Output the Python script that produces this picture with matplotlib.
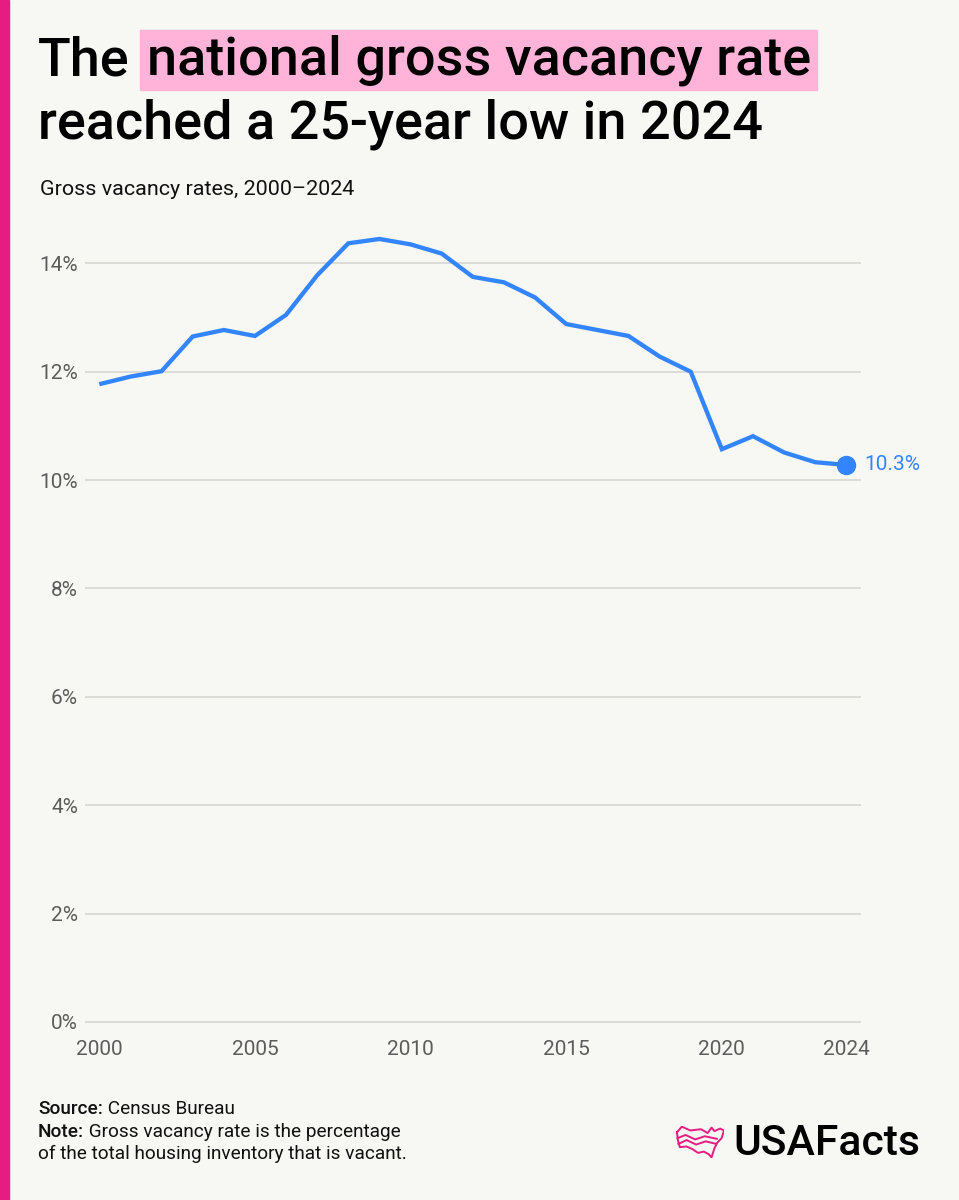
import matplotlib
matplotlib.use("Agg")
import matplotlib.pyplot as plt
from matplotlib.patches import Rectangle

# ---------------- data ----------------
years = list(range(2000, 2025))
rates = [11.77, 11.91, 12.01, 12.65, 12.77, 12.66, 13.05, 13.78, 14.37, 14.45,
         14.35, 14.18, 13.75, 13.65, 13.37, 12.88, 12.77, 12.66, 12.28, 12.00,
         10.57, 10.81, 10.51, 10.33, 10.28]
y_ticks = [0, 2, 4, 6, 8, 10, 12, 14]
y_tick_labels = ["0%", "2%", "4%", "6%", "8%", "10%", "12%", "14%"]
x_ticks = [2000, 2005, 2010, 2015, 2020, 2024]
x_tick_labels = ["2000", "2005", "2010", "2015", "2020", "2024"]
end_label = "10.3%"

title_plain = "The"
title_highlight = "national gross vacancy rate"
title_line2 = "reached a 25-year low in 2024"
subtitle = "Gross vacancy rates, 2000\u20132024"
source_bold = "Source:"
source_text = " Census Bureau"
note_bold = "Note:"
note_text = " Gross vacancy rate is the percentage"
note_line2 = "of the total housing inventory that is vacant."
logo_text = "USAFacts"

# ---------------- style ----------------
BG = "#F7F7F3"
BLUE = "#3385FF"
PINK = "#E61C80"
HILITE = "#FFB3D9"
GRID = "#DCDCD6"
TICK = "#5C5C5C"
FONT = ["Roboto", "DejaVu Sans"]
plt.rcParams["font.family"] = FONT

W, H = 959, 1200
fig = plt.figure(figsize=(W / 100, H / 100), dpi=100, facecolor=BG)
renderer = fig.canvas.get_renderer()

def fx(px):
    return px / W

def fy(py):
    return 1 - py / H

# left pink bar
fig.patches.append(Rectangle((0, 0), fx(9), 1, transform=fig.transFigure,
                             color=PINK, zorder=0))

# ---------------- axes ----------------
ylo, yhi = -0.15, 14.8
ax_left, ax_right = 85, 861
ax_bot, ax_top = 1030.1, 220
ax = fig.add_axes([fx(ax_left), fy(ax_bot), (ax_right - ax_left) / W,
                   (ax_bot - ax_top) / H])
ax.set_facecolor(BG)
ax.plot(years, rates, color=BLUE, lw=3.1, solid_joinstyle="miter",
        solid_capstyle="butt", zorder=3, clip_on=False)
ax.plot([years[-1]], [rates[-1]], "o", color=BLUE, ms=13, zorder=4, clip_on=False)
ax.annotate(end_label, (years[-1], rates[-1]), xytext=(13, 0),
            textcoords="offset points", va="center", ha="left",
            color=BLUE, fontsize=15, annotation_clip=False)

ax.set_xlim(1999.54, 2024.47)
ax.set_ylim(ylo, yhi)
ax.set_yticks(y_ticks)
ax.set_yticklabels(y_tick_labels)
ax.set_xticks(x_ticks)
ax.set_xticklabels(x_tick_labels)
ax.tick_params(axis="both", length=0, labelsize=15, labelcolor=TICK)
ax.tick_params(axis="y", pad=5)
ax.tick_params(axis="x", pad=7)
for s in ax.spines.values():
    s.set_visible(False)
ax.grid(axis="y", color=GRID, lw=1.4, zorder=1)
ax.grid(axis="x", visible=False)
ax.set_axisbelow(True)

# ---------------- text helpers ----------------
def fit_text(x_px, y_px, s, target_w, **kw):
    t = fig.text(fx(x_px), fy(y_px), s, va="baseline", ha="left",
                 fontsize=20, **kw)
    w = t.get_window_extent(renderer).width
    t.set_fontsize(20 * target_w / w)
    return t

# title
t_hi = fit_text(147, 75, title_highlight, 665, color="black", fontweight="medium")
tsize = t_hi.get_fontsize()
fig.text(fx(38), fy(75), title_plain, va="baseline", ha="left",
         fontsize=tsize, color="black", fontweight="medium")
fig.patches.append(Rectangle((fx(140), fy(90)), (817 - 140) / W, 60 / H,
                             transform=fig.transFigure, color=HILITE, zorder=0))
fig.text(fx(38), fy(138), title_line2, va="baseline", ha="left",
         fontsize=tsize, color="black", fontweight="medium")

# subtitle
fit_text(40, 195, subtitle, 313, color="#111111")

# footnotes
tn = fit_text(38, 1137, note_bold + note_text, 360, color="#111111")
fsize = tn.get_fontsize()
tn.set_text("")
def bold_then_plain(x_px, y_px, b, p):
    tb = fig.text(fx(x_px), fy(y_px), b, va="baseline", ha="left",
                  fontsize=fsize, fontweight="medium", color="#111111")
    wb = tb.get_window_extent(renderer).width
    fig.text(fx(x_px + wb), fy(y_px), p, va="baseline", ha="left",
             fontsize=fsize, color="#111111")
bold_then_plain(38, 1114, source_bold, source_text)
bold_then_plain(38, 1137, note_bold, note_text)
fig.text(fx(38), fy(1159), note_line2, va="baseline", ha="left",
         fontsize=fsize, color="#111111")

# logo
fit_text(733, 1155, logo_text, 187, color="black", fontweight="medium")
iax = fig.add_axes([fx(676), fy(1158), 48 / W, 32 / H])
iax.set_xlim(0, 1)
iax.set_ylim(0, 1)
iax.axis("off")
outline_x = [0.02, 0.12, 0.30, 0.52, 0.66, 0.74, 0.80, 0.92, 1.0, 0.95, 0.86,
             0.80, 0.74, 0.68, 0.58, 0.46, 0.34, 0.22, 0.08, 0.04, 0.02]
outline_y = [0.80, 0.98, 0.86, 0.90, 0.78, 0.95, 0.84, 0.92, 0.86, 0.62, 0.48,
             0.30, 0.02, 0.12, 0.20, 0.16, 0.28, 0.36, 0.34, 0.55, 0.80]
iax.plot(outline_x, outline_y, color=PINK, lw=1.4, solid_joinstyle="round")
iax.plot([0.03, 0.2, 0.4, 0.6, 0.85], [0.62, 0.72, 0.58, 0.68, 0.60],
         color=PINK, lw=1.4)
iax.plot([0.05, 0.22, 0.42, 0.62, 0.84], [0.44, 0.56, 0.42, 0.52, 0.44],
         color=PINK, lw=1.4)

fig.savefig("out.png", dpi=100, facecolor=BG)
